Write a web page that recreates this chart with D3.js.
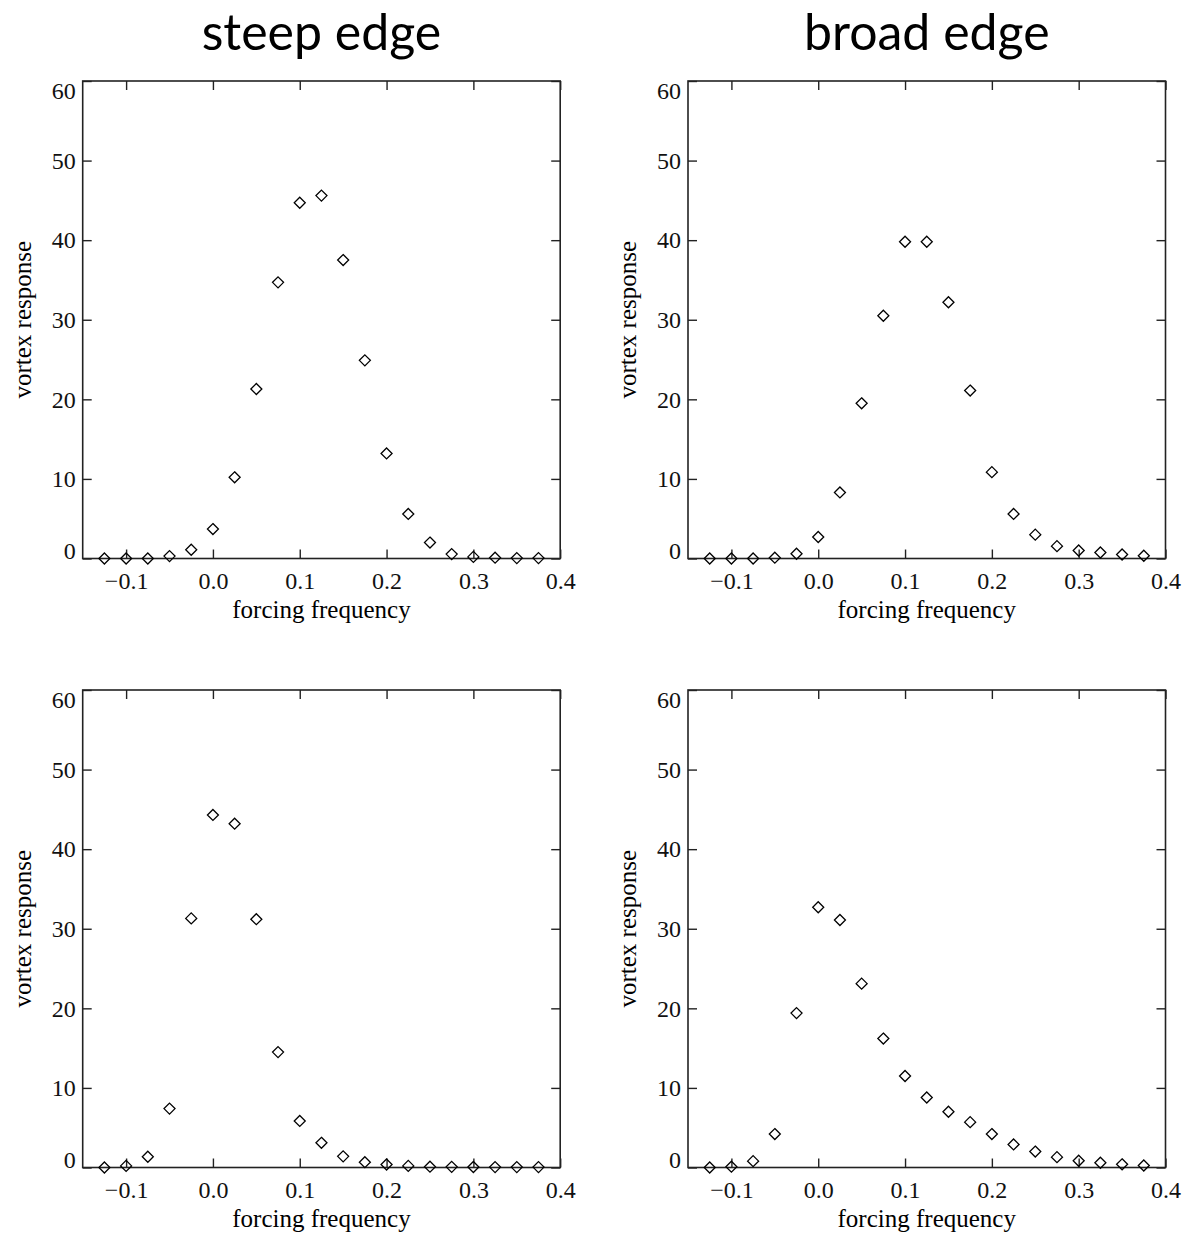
<!DOCTYPE html>
<html>
<head>
<meta charset="utf-8">
<script src="https://cdn.jsdelivr.net/npm/d3@7"></script>
<style>
  body { margin: 0; background: #fff; }
  .tick text { font-family: "Liberation Serif", serif; }
</style>
</head>
<body>
<svg id="chart" width="1184" height="1235"></svg>
<script>
// forcing frequencies, same for every panel
var freqs = [-0.125, -0.1, -0.075, -0.05, -0.025, 0.0, 0.025, 0.05, 0.075, 0.1, 0.125,
             0.15, 0.175, 0.2, 0.225, 0.25, 0.275, 0.3, 0.325, 0.35, 0.375];

var steepTop    = [0, 0, 0, 0.3, 1.1, 3.7, 10.2, 21.3, 34.7, 44.7, 45.6,
                   37.5, 24.9, 13.2, 5.6, 2.0, 0.55, 0.2, 0.1, 0.05, 0.05];
var broadTop    = [0, 0, 0, 0.1, 0.6, 2.7, 8.3, 19.5, 30.5, 39.8, 39.8,
                   32.2, 21.1, 10.85, 5.6, 3.0, 1.55, 1.0, 0.75, 0.5, 0.35];
var steepBottom = [0, 0.2, 1.35, 7.4, 31.3, 44.3, 43.2, 31.2, 14.5, 5.85, 3.1,
                   1.4, 0.67, 0.38, 0.2, 0.1, 0.08, 0.06, 0.05, 0.05, 0.05];
var broadBottom = [0, 0.1, 0.8, 4.2, 19.4, 32.7, 31.1, 23.1, 16.2, 11.5, 8.8,
                   7.0, 5.7, 4.2, 2.9, 2.0, 1.3, 0.85, 0.6, 0.4, 0.25];

var titles = ["steep edge", "broad edge"];
var xTicks = [-0.1, 0.0, 0.1, 0.2, 0.3, 0.4];
var yTicks = [0, 10, 20, 30, 40, 50, 60];

var svg = d3.select("#chart");

var panels = [
  {vals: steepTop,    left: 82.7, top: 81,  title: titles[0]},
  {vals: broadTop,    left: 688,  top: 81,  title: titles[1]},
  {vals: steepBottom, left: 82.7, top: 690, title: null},
  {vals: broadBottom, left: 688,  top: 690, title: null}
];
var w = 477.5, h = 477.5;

panels.forEach(function(p){
    var g = svg.append("g").attr("transform", "translate(" + p.left + "," + p.top + ")");

    var x = d3.scaleLinear().domain([-0.15, 0.4]).range([0, w]);
    var y = d3.scaleLinear().domain([0, 60]).range([h, 0]);

    // inward ticks on all four sides
    var bottom = g.append("g").attr("transform", "translate(0," + h + ")")
        .call(d3.axisBottom(x).tickValues(xTicks).tickSize(-9).tickPadding(13).tickFormat(d3.format(".1f")));
    g.append("g").call(d3.axisTop(x).tickValues(xTicks).tickSize(-9).tickFormat(""));
    var left = g.append("g")
        .call(d3.axisLeft(y).tickValues(yTicks).tickSize(-9).tickPadding(7).tickFormat(d3.format("d")));
    g.append("g").attr("transform", "translate(" + w + ",0)")
        .call(d3.axisRight(y).tickValues(yTicks).tickSize(-9).tickFormat(""));

    g.selectAll(".domain").remove();
    g.selectAll(".tick line").attr("stroke", "#222").attr("stroke-width", 1.4);
    bottom.selectAll(".tick text").attr("font-size", 24).attr("fill", "#111");
    left.selectAll(".tick text").attr("font-size", 24).attr("fill", "#111")
        .attr("dy", function(d){ return d === 60 ? "0.72em" : d === 0 ? "0.0em" : "0.32em"; });

    g.append("rect").attr("width", w).attr("height", h)
        .attr("fill", "none").attr("stroke", "#222").attr("stroke-width", 1.6);

    // diamonds
    g.selectAll("path.pt")
        .data(freqs.map(function(f, i){ return [f, p.vals[i]]; }))
        .enter()
        .append("path")
            .attr("class", "pt")
            .attr("d", "M0,-5.5L5.5,0L0,5.5L-5.5,0Z")
            .attr("transform", function(d){ return "translate(" + x(d[0]) + "," + y(d[1]) + ")"; })
            .attr("fill", "none")
            .attr("stroke", "#000")
            .attr("stroke-width", 1.3);

    g.append("text")
        .attr("x", w / 2).attr("y", h + 59)
        .attr("text-anchor", "middle")
        .attr("font-family", "Liberation Serif, serif").attr("font-size", 25)
        .text("forcing frequency");

    g.append("text")
        .attr("transform", "translate(-52," + (h / 2) + ") rotate(-90)")
        .attr("text-anchor", "middle")
        .attr("font-family", "Liberation Serif, serif").attr("font-size", 25)
        .text("vortex response");

    if (p.title) {
        g.append("text")
            .attr("x", w / 2).attr("y", -31)
            .attr("text-anchor", "middle")
            .attr("font-family", "Lato, sans-serif").attr("font-size", 50)
            .text(p.title);
    }
});
</script>
</body>
</html>
